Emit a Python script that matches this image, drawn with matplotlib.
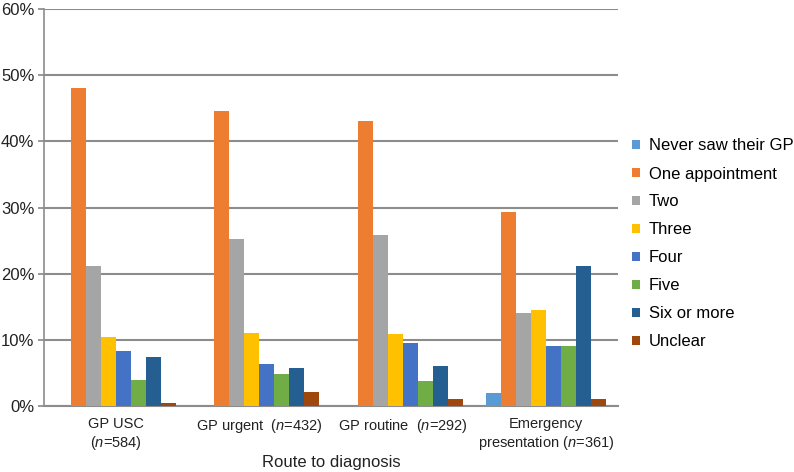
import matplotlib
matplotlib.use("Agg")
import matplotlib.pyplot as plt
from matplotlib.patches import Patch
import numpy as np

plt.rcParams['font.family'] = ['Liberation Sans', 'DejaVu Sans']
plt.rcParams['mathtext.fontset'] = 'custom'
plt.rcParams['mathtext.it'] = 'Liberation Sans:italic'
plt.rcParams['mathtext.rm'] = 'Liberation Sans'

categories = ["GP USC\n($\\it{n}$=584)", "GP urgent  ($\\it{n}$=432)",
              "GP routine  ($\\it{n}$=292)", "Emergency\npresentation ($\\it{n}$=361)"]
series_names = ["Never saw their GP", "One appointment", "Two", "Three",
                "Four", "Five", "Six or more", "Unclear"]
never_saw = [0.0, 0.0, 0.0, 2.0]
one_appt = [48.0, 44.6, 43.0, 29.3]
two = [21.2, 25.3, 25.8, 14.0]
three = [10.4, 11.1, 10.9, 14.5]
four = [8.3, 6.4, 9.5, 9.1]
five = [3.9, 4.8, 3.8, 9.1]
six_more = [7.4, 5.7, 6.1, 21.1]
unclear = [0.4, 2.1, 1.1, 1.1]
yticks = [0, 10, 20, 30, 40, 50, 60]
ytick_labels = ["0%", "10%", "20%", "30%", "40%", "50%", "60%"]

series = [never_saw, one_appt, two, three, four, five, six_more, unclear]
colors = ["#5B9BD5", "#ED7D31", "#A5A5A5", "#FFC000",
          "#4472C4", "#70AD47", "#255E91", "#9E480E"]

fig = plt.figure(figsize=(7.94, 4.72), dpi=100)
ax = fig.add_axes([44/794, 1-406/472, (618-44)/794, (406-9)/472])

x = np.arange(len(categories))
n = len(series)
bw = 0.1045
for i, (vals, c) in enumerate(zip(series, colors)):
    ax.bar(x + (i - (n-1)/2) * bw, vals, width=bw, color=c, zorder=3, linewidth=0)

ax.set_xlim(-0.5, len(categories) - 0.5)
ax.set_ylim(0, 60)
ax.set_yticks(yticks)
ax.set_yticklabels(ytick_labels, fontsize=12, color="#222222")
ax.set_xticks(x)
ax.set_xticklabels(categories, fontsize=10.5, color="#222222")
ax.tick_params(axis='x', length=0, pad=8)
ax.tick_params(axis='y', length=4, width=1.2, color="#888888", pad=3)
ax.grid(axis='y', color="#8C8C8C", linewidth=1.5, zorder=0)
for s in ['top', 'right']:
    ax.spines[s].set_visible(False)
ax.spines['left'].set_color("#8C8C8C")
ax.spines['left'].set_linewidth(1.2)
ax.spines['bottom'].set_color("#8C8C8C")
ax.spines['bottom'].set_linewidth(1.5)
fig.text(331/794, 1-462/472, "Route to diagnosis", fontsize=12, color="#222222",
         ha='center', va='center')

handles = [Patch(facecolor=c, edgecolor='none') for c in colors]
fig.legend(handles, series_names, loc='center left', bbox_to_anchor=(632/794, 1-244/472),
           frameon=False, fontsize=12, handlelength=0.5, handleheight=0.5,
           handletextpad=0.5, labelspacing=0.78, borderpad=0, borderaxespad=0)

fig.savefig("out.png", dpi=100)
